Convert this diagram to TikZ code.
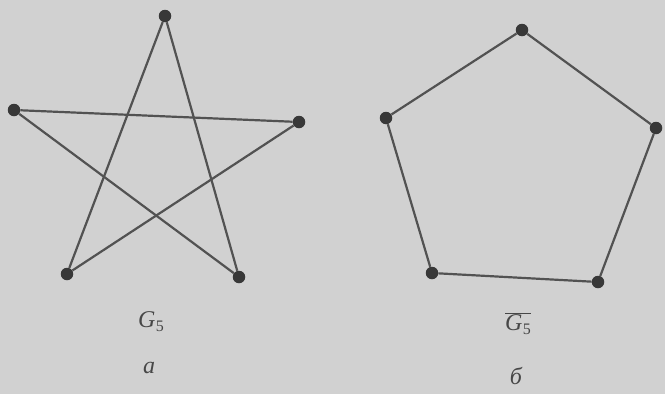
\documentclass[tikz,border=0pt]{standalone}
\usepackage{fontspec}
\setmainfont{Liberation Serif}
\newcommand{\gfive}{\textit{G}\kern0.5pt\raisebox{-0.35ex}{\fontsize{16}{18}\selectfont 5}}
\begin{document}
\begin{tikzpicture}[x=1pt,y=-1pt,
  vtx/.style={circle,fill=black!78,inner sep=0pt,minimum size=12.5pt},
  edge/.style={draw=black!68,line width=2.2pt},
  lbl/.style={font=\fontsize{24}{26}\selectfont,text=black!72}]
\fill[black!18] (0,0) rectangle (665,394);
\useasboundingbox (0,0) rectangle (665,394);
% star
\node[vtx] (t) at (165,16) {};
\node[vtx] (l) at (14,110) {};
\node[vtx] (r) at (299,122) {};
\node[vtx] (bl) at (67,274) {};
\node[vtx] (br) at (239,277) {};
\draw[edge] (t) -- (bl);
\draw[edge] (t) -- (br);
\draw[edge] (l) -- (r);
\draw[edge] (l) -- (br);
\draw[edge] (r) -- (bl);
% pentagon
\node[vtx] (pt) at (522,30) {};
\node[vtx] (pr) at (656,128) {};
\node[vtx] (pbr) at (598,282) {};
\node[vtx] (pbl) at (432,273) {};
\node[vtx] (pl) at (386,118) {};
\draw[edge] (pt) -- (pr) -- (pbr) -- (pbl) -- (pl) -- (pt);
% labels
\node[lbl] (g1) at (151,322) {\gfive};
\node[lbl] (a1) at (149,368) {\itshape a};
\node[lbl] (g2) at (518,324) {$\overline{\hbox{\gfive}}$};
\node[lbl] (a2) at (516,376) {\itshape б};
\end{tikzpicture}
\end{document}
